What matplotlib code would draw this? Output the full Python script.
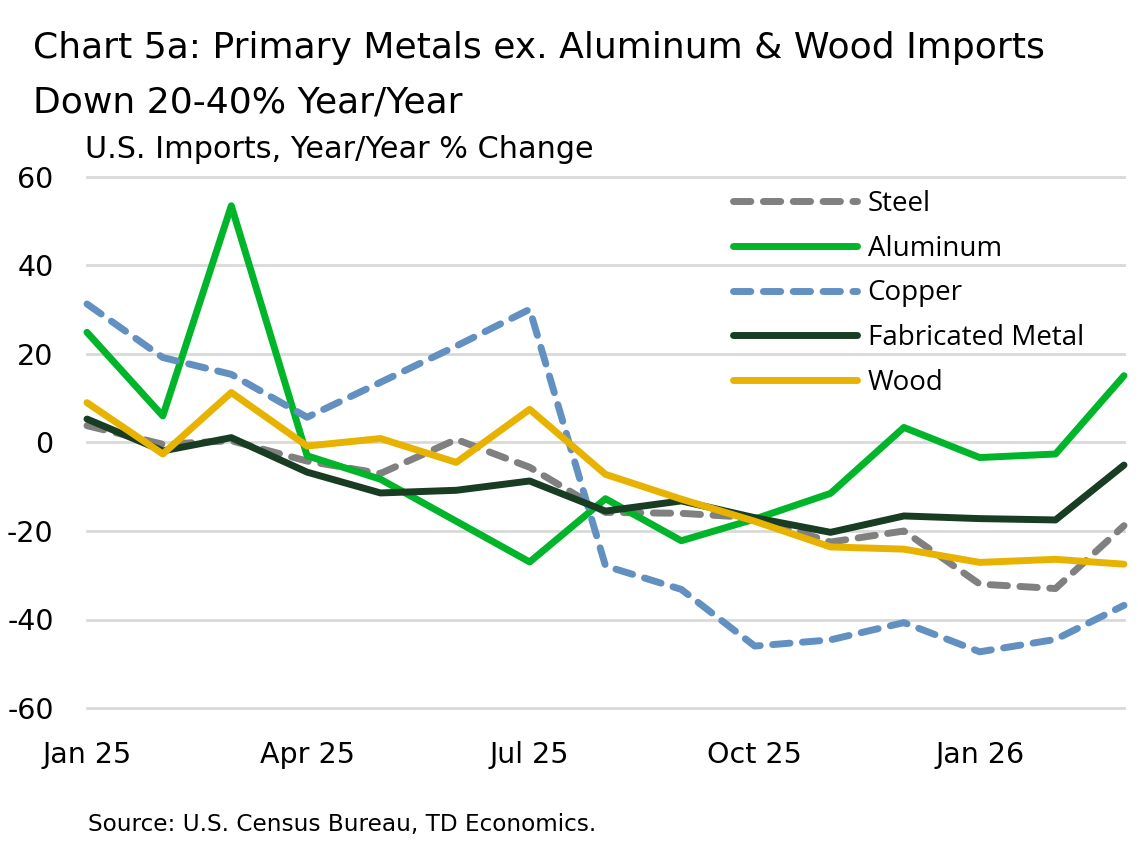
import numpy as np
import pandas as pd
import matplotlib
matplotlib.use("Agg")
import matplotlib.pyplot as plt
import matplotlib.dates as mdates

plt.rcParams['font.family'] = ['DejaVu Sans']
plt.rcParams['axes.unicode_minus'] = False

months = pd.date_range("2025-01-01", "2026-03-01", freq="MS")

steel = [3.8, -0.4, 0.4, -4.2, -7.0, 0.7, -5.6, -15.8, -16.0, -17.0, -22.5, -20.0, -32.0, -33.0, -18.8]
aluminum = [24.9, 6.0, 53.5, -3.0, -8.3, -17.8, -27.0, -12.7, -22.2, -17.3, -11.5, 3.4, -3.4, -2.6, 15.1]
copper = [31.3, 19.2, 15.4, 5.7, 13.6, 21.8, 30.1, -27.9, -33.2, -46.0, -44.6, -40.7, -47.3, -44.5, -36.8]
fabricated = [5.3, -1.9, 1.1, -6.7, -11.4, -10.8, -8.7, -15.5, -13.2, -17.0, -20.3, -16.6, -17.2, -17.5, -5.1]
wood = [9.0, -2.6, 11.3, -0.8, 0.9, -4.5, 7.5, -7.2, -12.8, -17.8, -23.6, -24.1, -27.1, -26.4, -27.5]

series = [
    ("Steel", steel, "#808080", True),
    ("Aluminum", aluminum, "#00b52a", False),
    ("Copper", copper, "#6290c1", True),
    ("Fabricated Metal", fabricated, "#183d23", False),
    ("Wood", wood, "#e8b300", False),
]

W, H = 1138, 850
fig = plt.figure(figsize=(W / 100, H / 100), dpi=100)
ax = fig.add_axes([87 / W, 1 - 708 / H, (1124 - 87) / W, (708 - 177) / H])

for name, vals, col, dashed in series:
    if dashed:
        ax.plot(months, vals, color=col, lw=5, label=name, dashes=(2.5, 1.8),
                dash_capstyle='round', solid_joinstyle='round', clip_on=False)
    else:
        ax.plot(months, vals, color=col, lw=5, label=name,
                solid_capstyle='round', solid_joinstyle='round', clip_on=False)

ax.set_ylim(-60, 60)
ax.set_yticks(np.arange(-60, 61, 20))
ax.set_xlim(months[0], months[-1])
ax.set_xticks([pd.Timestamp(d) for d in ["2025-01-01", "2025-04-01", "2025-07-01", "2025-10-01", "2026-01-01"]])
ax.xaxis.set_major_formatter(mdates.DateFormatter("%b %y"))
ax.grid(axis='y', color='#d9d9d9', lw=2)
for gl in ax.get_ygridlines():
    gl.set_clip_on(False)
ax.set_axisbelow(True)
for s in ax.spines.values():
    s.set_visible(False)
ax.tick_params(axis='both', length=0, labelsize=20.5)
ax.tick_params(axis='x', pad=24)
ax.tick_params(axis='y', pad=24)

leg = fig.legend(loc='upper left', bbox_to_anchor=(733 / W, 1 - 190 / H), frameon=False,
                 prop={'family': 'Open Sans', 'size': 20},
                 handlelength=4.45, handletextpad=0.4, labelspacing=0.6,
                 borderpad=0, borderaxespad=0)

fig.text(33 / W, 1 - 58 / H, "Chart 5a: Primary Metals ex. Aluminum & Wood Imports", fontsize=26, va='baseline')
fig.text(33 / W, 1 - 113 / H, "Down 20-40% Year/Year", fontsize=26, va='baseline')
fig.text(85 / W, 1 - 158 / H, "U.S. Imports, Year/Year % Change", fontsize=21.8, va='baseline')
fig.text(88 / W, 1 - 831 / H, "Source: U.S. Census Bureau, TD Economics.", fontsize=16.7, va='baseline')

fig.savefig("out.png", dpi=100)
